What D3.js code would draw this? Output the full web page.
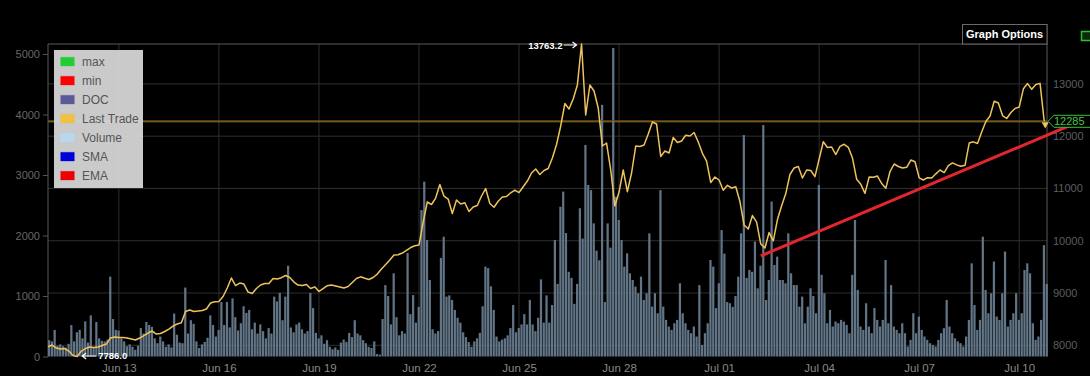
<!DOCTYPE html>
<html><head><meta charset="utf-8">
<script src="https://cdn.jsdelivr.net/npm/d3@7"></script>
<style>html,body{margin:0;padding:0;background:#000;overflow:hidden}</style>
</head><body><svg id="c" width="1090" height="376"></svg>
<script>
// ---------------- DATA ----------------
const startTime = "2019-06-10T21:00:00Z";
const endTime = "2019-07-10T20:00:00Z";
const priceStepHours = 3;
const volumeStepHours = 2;

const lastTrade = [
 7973, 8005, 7948, 7929, 7938, 7890, 7804, 7786, 7890, 7938, 7967, 7957,
 7967, 7996, 8024, 8139, 8158, 8148, 8148, 8139, 8120, 8101, 8139, 8187,
 8235, 8273, 8216, 8225, 8264, 8311, 8369, 8407, 8432, 8646, 8675, 8646,
 8656, 8665, 8694, 8809, 8833, 8837, 8933, 9096, 9287, 9143, 9191, 9172,
 9019, 8990, 9086, 9153, 9182, 9182, 9277, 9268, 9293, 9335, 9297, 9210,
 9153, 9143, 9163, 9086, 9118, 9029, 9086, 9140, 9153, 9134, 9115, 9096,
 9124, 9201, 9277, 9310, 9283, 9258, 9297, 9363, 9459, 9545, 9631, 9727,
 9733, 9765, 9817, 9870, 9905, 9918, 10358, 10741, 10693, 10817, 11076, 10852,
 10798, 10521, 10779, 10702, 10727, 10559, 10645, 10674, 10856, 10999, 10712, 10641,
 10756, 10836, 10846, 10917, 10970, 10922, 11033, 11142, 11296, 11372, 11267, 11343,
 11382, 11582, 11841, 12195, 12625, 12520, 12711, 12979, 13763.2, 12405, 12979, 12864,
 12539, 11812, 11869, 11353, 10664, 10932, 11353, 10938, 11296, 11812, 11802, 11831,
 12042, 12271, 12233, 11611, 11716, 11678, 11975, 11879, 11908, 12019, 12003, 12070,
 11889, 11672, 11525, 11114, 11219, 11162, 10965, 11060, 11009, 11032, 10750, 10301,
 10224, 10482, 10358, 9937, 9861, 10157, 9998, 10406, 10668, 10903, 11267, 11391,
 11420, 11200, 11353, 11343, 11227, 11563, 11894, 11783, 11793, 11649, 11806, 11845,
 11787, 11582, 11177, 11079, 10907, 11219, 11215, 11238, 11095, 11003, 11324, 11468,
 11420, 11391, 11405, 11544, 11510, 11204, 11162, 11206, 11200, 11280, 11353, 11305,
 11439, 11489, 11452, 11424, 11443, 11869, 11892, 11860, 12080, 12281, 12386, 12669,
 12635, 12395, 12338, 12453, 12529, 12558, 12906, 13006, 12897, 12987, 13010, 12285
];

const volume = [
 270, 250, 440, 180, 200, 170, 150, 210, 520, 250, 400, 440,
 300, 580, 230, 680, 160, 570, 300, 260, 250, 280, 1320, 620,
 440, 430, 300, 250, 170, 200, 160, 110, 180, 470, 380, 570,
 520, 490, 300, 220, 330, 250, 160, 200, 150, 710, 360, 230,
 220, 1140, 380, 600, 540, 250, 140, 200, 240, 310, 680, 520,
 330, 440, 900, 520, 900, 480, 960, 650, 430, 550, 830, 720,
 770, 450, 560, 380, 530, 420, 300, 470, 380, 990, 910, 1050,
 600, 990, 1500, 480, 400, 530, 560, 450, 380, 420, 1050, 800,
 390, 300, 350, 210, 270, 160, 120, 150, 110, 230, 280, 240,
 390, 320, 600, 380, 350, 270, 220, 160, 140, 250, 40, 30,
 620, 1180, 1000, 530, 1375, 650, 350, 420, 380, 1710, 700, 1015,
 560, 820, 2420, 2890, 1925, 1265, 450, 380, 420, 1630, 1980, 990,
 1010, 935, 770, 640, 560, 400, 320, 240, 160, 250, 300, 390,
 830, 1485, 1460, 1160, 770, 330, 250, 280, 300, 350, 470, 850,
 400, 470, 530, 700, 530, 935, 530, 420, 640, 1275, 560, 1010,
 560, 850, 1925, 1200, 2475, 2725, 2040, 1400, 1300, 870, 1200, 2450,
 1950, 3495, 2835, 2750, 2200, 1750, 1590, 4160, 900, 2200, 1800, 5100,
 2640, 2256, 1925, 1485, 1705, 1375, 1265, 1155, 1045, 1320, 935, 1045,
 2035, 825, 1045, 715, 2750, 825, 605, 495, 440, 550, 605, 1210,
 715, 550, 440, 385, 495, 330, 1180, 190, 385, 550, 1595, 1485,
 800, 1210, 2090, 1700, 900, 880, 820, 1000, 1320, 2035, 3660, 1300,
 1430, 1400, 1900, 1127, 1500, 3825, 934, 1265, 2560, 1512, 1650, 1265,
 1265, 1210, 2036, 1375, 1182, 1180, 824, 990, 548, 824, 1127, 1000,
 715, 2835, 1350, 1045, 550, 770, 495, 577, 550, 605, 577, 522,
 385, 1350, 2256, 1100, 495, 440, 880, 495, 385, 800, 605, 495,
 605, 1595, 550, 1180, 495, 440, 385, 550, 385, 165, 275, 715,
 385, 660, 440, 330, 275, 220, 192, 165, 275, 385, 467, 935,
 495, 385, 300, 250, 220, 165, 330, 605, 1540, 850, 440, 605,
 1980, 1100, 715, 1045, 1570, 660, 605, 1045, 1735, 495, 605, 715,
 1045, 605, 715, 1430, 1540, 1375, 550, 275, 330, 605, 1840, 1200
];

const xTickDates = ["2019-06-13","2019-06-16","2019-06-19","2019-06-22","2019-06-25",
  "2019-06-28","2019-07-01","2019-07-04","2019-07-07","2019-07-10"];
const priceTicks = [8000, 9000, 10000, 11000, 12000, 13000];
const volumeTicks = [0, 1000, 2000, 3000, 4000, 5000];
const volumeMax = 5165;
const maxTrade = 13763.2;
const minTrade = 7786.0;
const lastValue = 12285;
const trendTimes = ["2019-07-02T06:00:00Z", "2019-07-11T22:00:00Z"];
const trendValues = [9710, 12310];
const legendLabels = ["max", "min", "DOC", "Last Trade", "Volume", "SMA", "EMA"];
const legendColors = ["#22cc33", "#ff0000", "#5a5a99", "#f0c040", "#b8d8f0", "#0000dd", "#ee0000"];

// ---------------- CHART ----------------
const L = 48, R = 1047, T = 44, B = 356.5;
const FONT = "Arial, 'Liberation Sans', sans-serif";
const svg = d3.select("#c");
svg.append("rect").attr("width", 1090).attr("height", 376).attr("fill", "#000");

const t0 = new Date(startTime);
const x = d3.scaleUtc().domain([t0, new Date(endTime)]).range([L, R]);
const yP = d3.scaleLinear().domain([minTrade, maxTrade]).range([B, T]);
const yV = d3.scaleLinear().domain([0, volumeMax]).range([B, T]);
const HOUR = 3600e3;
const priceData = lastTrade.map((v, i) => ({t: new Date(+t0 + i * priceStepHours * HOUR), v}));
const volData = volume.map((v, i) => ({t: new Date(+t0 + i * volumeStepHours * HOUR), v}));

// grid
const grid = svg.append("g");
grid.selectAll(".hg").data(priceTicks).join("line")
  .attr("x1", L).attr("x2", R).attr("y1", d => yP(d)).attr("y2", d => yP(d))
  .attr("stroke", "#2e2e2e").attr("stroke-width", 1);
grid.selectAll(".vg").data(xTickDates).join("line")
  .attr("x1", d => x(new Date(d + "T00:00:00Z"))).attr("x2", d => x(new Date(d + "T00:00:00Z")))
  .attr("y1", T).attr("y2", B).attr("stroke", "#2e2e2e").attr("stroke-width", 1);

// frame
svg.append("line").attr("x1", L).attr("x2", R).attr("y1", T).attr("y2", T).attr("stroke", "#5a5a5a");
svg.append("line").attr("x1", L).attr("x2", L).attr("y1", T).attr("y2", B).attr("stroke", "#5a5a5a");
svg.append("line").attr("x1", R).attr("x2", R).attr("y1", 24).attr("y2", B).attr("stroke", "#5a5a5a");

// volume bars
const bw = (x(new Date(+t0 + volumeStepHours * HOUR)) - x(t0)) * 0.8;
svg.append("g").selectAll("rect").data(volData).join("rect")
  .attr("x", d => x(d.t)).attr("width", bw)
  .attr("y", d => yV(d.v)).attr("height", d => B - yV(d.v))
  .attr("fill", "#627587");

// last value lines
const ly = yP(lastValue);
svg.append("line").attr("x1", L).attr("x2", R).attr("y1", ly - 0.5).attr("y2", ly - 0.5)
  .attr("stroke", "#c8261c").attr("stroke-width", 1);
svg.append("line").attr("x1", L).attr("x2", R).attr("y1", ly + 0.5).attr("y2", ly + 0.5)
  .attr("stroke", "#4a9a2a").attr("stroke-width", 1);

// price line
svg.append("path").datum(priceData)
  .attr("d", d3.line().x(d => x(d.t)).y(d => yP(d.v)))
  .attr("fill", "none").attr("stroke", "#eec35b").attr("stroke-width", 1.5).attr("stroke-linejoin", "round");

// end marker
const last = priceData[priceData.length - 1];
svg.append("path").attr("d", d3.symbol(d3.symbolTriangle, 22)())
  .attr("transform", `translate(${x(last.t) + 1},${yP(last.v) + 3}) rotate(180)`)
  .attr("fill", "#eec35b");

// trend line
svg.append("line")
  .attr("x1", x(new Date(trendTimes[0]))).attr("y1", yP(trendValues[0]))
  .attr("x2", x(new Date(trendTimes[1]))).attr("y2", yP(trendValues[1]))
  .attr("stroke", "#e3262e").attr("stroke-width", 3);

// axes
const axL = svg.append("g").attr("transform", `translate(${L},0)`)
  .call(d3.axisLeft(yV).tickValues(volumeTicks).tickSize(5).tickPadding(3).tickFormat(d3.format("d")));
axL.select(".domain").remove();
axL.selectAll("line").attr("stroke", "#555");
axL.selectAll("text").attr("fill", "#666").style("font", `11px ${FONT}`);

const axR = svg.append("g").attr("transform", `translate(${R},0)`)
  .call(d3.axisRight(yP).tickValues(priceTicks).tickSize(0).tickPadding(6).tickFormat(d3.format("d")));
axR.select(".domain").remove();
axR.selectAll("text").attr("fill", "#5e5e5e").style("font", `11px ${FONT}`);

const axB = svg.append("g").attr("transform", `translate(0,${B})`)
  .call(d3.axisBottom(x).tickValues(xTickDates.map(d => new Date(d + "T00:00:00Z")))
    .tickSize(0).tickPadding(7).tickFormat(d3.utcFormat("%b %d")));
axB.select(".domain").remove();
axB.selectAll("text").attr("fill", "#888").style("font", `11.5px ${FONT}`);

// max / min annotations
const imax = lastTrade.indexOf(maxTrade), imin = lastTrade.indexOf(minTrade);
const pmx = x(priceData[imax].t), pmy = yP(maxTrade);
const pnx = x(priceData[imin].t), pny = yP(minTrade);
function arrow(x1, x2, y) {
  const dir = Math.sign(x2 - x1);
  svg.append("path").attr("d", `M${x1},${y}L${x2},${y}M${x2 - dir * 4},${y - 3}L${x2},${y}L${x2 - dir * 4},${y + 3}`)
    .attr("stroke", "#fff").attr("stroke-width", 1.2).attr("fill", "none");
}
arrow(pmx - 18, pmx - 5, pmy + 1);
svg.append("text").attr("x", pmx - 19).attr("y", pmy + 4.5).attr("text-anchor", "end")
  .attr("fill", "#fff").style("font", `bold 9.5px ${FONT}`).text(d3.format(".1f")(maxTrade));
arrow(pnx + 19, pnx + 5, pny - 0.5);
svg.append("text").attr("x", pnx + 21).attr("y", pny + 2.8)
  .attr("fill", "#fff").style("font", `bold 9.5px ${FONT}`).text(d3.format(".1f")(minTrade));

// last value tag
const tg = svg.append("g");
tg.append("path").attr("d", `M${R + 1},${ly}L${R + 7},${ly - 6}L1095,${ly - 6}L1095,${ly + 6}L${R + 7},${ly + 6}Z`)
  .attr("fill", "#000").attr("stroke", "#3fbf3f").attr("stroke-width", 1);
tg.append("text").attr("x", R + 7).attr("y", ly + 4).attr("fill", "#45c845")
  .style("font", `11px ${FONT}`).text(lastValue);

// graph options button
svg.append("rect").attr("x", 962.5).attr("y", 24.5).attr("width", 84.5).attr("height", 19.5)
  .attr("fill", "#000").attr("stroke", "#6a6a6a");
svg.append("text").attr("x", 1004.5).attr("y", 38).attr("text-anchor", "middle")
  .attr("fill", "#fff").style("font", `bold 11px ${FONT}`).text("Graph Options");
svg.append("rect").attr("x", 1081.5).attr("y", 31.5).attr("width", 12).attr("height", 9)
  .attr("fill", "#0a2a0a").attr("stroke", "#33bb33").attr("stroke-width", 1.5);

// legend
const lg = svg.append("g");
lg.append("rect").attr("x", 54).attr("y", 50).attr("width", 89).attr("height", 138)
  .attr("fill", "#d9d9d9").attr("opacity", 0.93);
const items = lg.selectAll(".li").data(legendLabels).join("g")
  .attr("transform", (d, i) => `translate(60,${61.7 + i * 19})`);
items.append("rect").attr("x", 0).attr("y", -5).attr("width", 15).attr("height", 10)
  .attr("fill", (d, i) => legendColors[i]).attr("stroke", "#c8c8c8").attr("stroke-width", 1);
items.append("text").attr("x", 22).attr("y", 4.5).attr("fill", "#555")
  .style("font", `12px ${FONT}`).text(d => d);
</script>
</body></html>
